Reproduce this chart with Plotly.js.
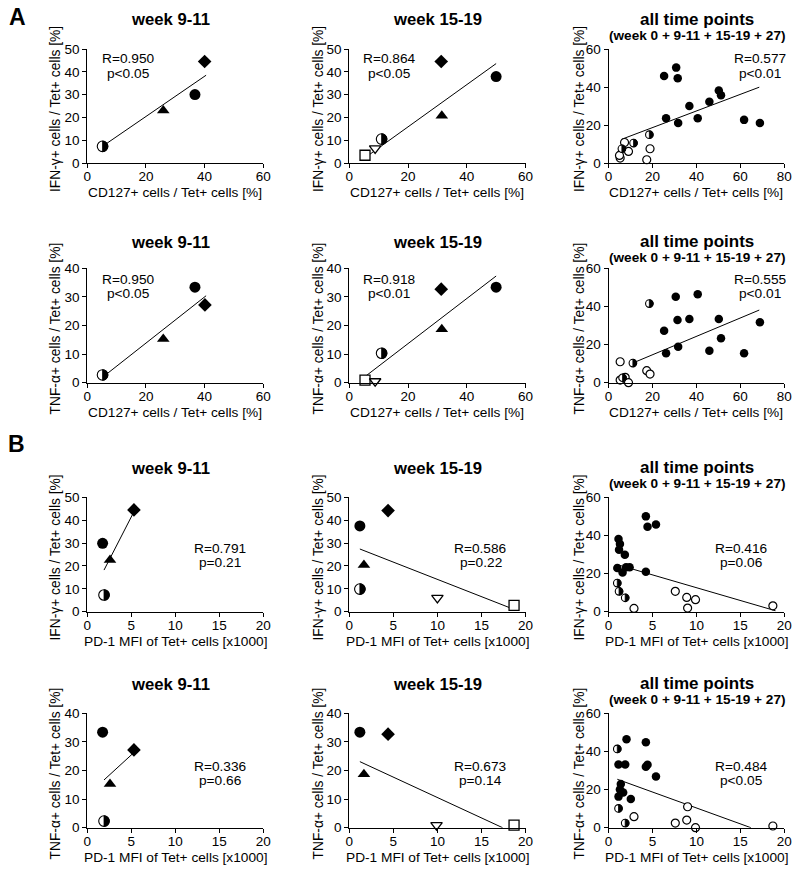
<!DOCTYPE html>
<html><head><meta charset="utf-8">
<script src="https://cdn.plot.ly/plotly-3.0.1.min.js"></script>
<style>html,body{margin:0;padding:0;background:#fff}#chart{width:800px;height:872px}</style>
</head><body><div id="chart"></div>
<script>
// ===== DATA =====
// Panel A: CD127+ / Tet+ [%] vs cytokine
const A1_x = [5.2, 25.9, 36.7, 40.0];
const A1_y = [7.3, 23.0, 30.0, 44.5];
const A1_sym = ['half', 'triangle', 'circle', 'diamond'];
const A1_fitx = [5.5, 40.5];
const A1_fity = [7.6, 38.5];

const A2_x = [5.35, 8.8, 11.0, 31.3, 31.5, 50.0];
const A2_y = [3.4, 6.4, 10.5, 44.5, 20.7, 37.9];
const A2_sym = ['square', 'tridown', 'half', 'diamond', 'triangle', 'circle'];
const A2_fitx = [6.0, 50.0];
const A2_fity = [2.9, 43.6];

const A3_filled_x = [25.3, 30.8, 31.5, 26.2, 31.7, 36.8, 40.6, 45.9, 50.2, 51.2, 61.7, 68.9];
const A3_filled_y = [45.8, 50.2, 44.6, 23.6, 21.0, 30.0, 23.6, 32.2, 38.1, 35.7, 22.7, 21.0];
const A3_half_x = [18.6, 11.4, 6.1];
const A3_half_y = [14.9, 10.5, 7.5];
const A3_open_x = [7.3, 9.1, 18.9, 17.4, 5.3, 5.0];
const A3_open_y = [10.8, 6.1, 7.5, 1.7, 2.6, 4.0];
const A3_fitx = [6.0, 68.6];
const A3_fity = [12.5, 39.9];

const A4_x = [5.2, 25.9, 36.7, 40.1];
const A4_y = [2.7, 15.3, 33.4, 27.2];
const A4_sym = ['half', 'triangle', 'circle', 'diamond'];
const A4_fitx = [5.7, 40.5];
const A4_fity = [2.3, 30.4];

const A5_x = [5.35, 8.8, 11.0, 31.3, 31.5, 50.0];
const A5_y = [0.9, 0.5, 10.3, 32.7, 18.7, 33.4];
const A5_sym = ['square', 'tridown', 'half', 'diamond', 'triangle', 'circle'];
const A5_fitx = [5.7, 50.0];
const A5_fity = [2.4, 37.3];

const A6_filled_x = [30.6, 40.6, 25.3, 31.4, 36.8, 50.2, 26.2, 31.7, 45.9, 51.2, 61.7, 68.9];
const A6_filled_y = [45.1, 46.4, 27.3, 32.9, 33.4, 33.4, 15.4, 18.9, 16.8, 23.3, 15.4, 31.7];
const A6_half_x = [18.6, 11.1, 6.4];
const A6_half_y = [41.5, 10.3, 2.6];
const A6_open_x = [5.3, 17.4, 18.9, 5.3, 7.6, 9.1];
const A6_open_y = [11.0, 6.3, 4.5, 1.4, 2.8, 0.0];
const A6_fitx = [10.6, 68.6];
const A6_fity = [10.1, 38.1];

// Panel B: PD-1 MFI of Tet+ cells [x1000] vs cytokine
const B1_x = [1.74, 1.9, 2.58, 5.3];
const B1_y = [29.9, 7.3, 22.6, 44.5];
const B1_sym = ['circle', 'half', 'triangle', 'diamond'];
const B1_fitx = [1.9, 5.3];
const B1_fity = [18.2, 43.7];

const B2_x = [1.2, 4.4, 1.66, 1.2, 10.0, 18.7];
const B2_y = [37.5, 44.2, 20.4, 9.9, 6.0, 2.8];
const B2_sym = ['circle', 'diamond', 'triangle', 'half', 'tridown', 'square'];
const B2_fitx = [1.2, 18.7];
const B2_fity = [27.4, 1.0];

const B3_filled_x = [4.25, 4.44, 5.4, 1.14, 1.3, 1.2, 1.86, 1.0, 1.6, 2.0, 2.4, 4.25];
const B3_filled_y = [50.0, 44.6, 45.7, 38.1, 35.5, 32.5, 29.9, 22.9, 20.6, 23.3, 23.3, 21.0];
const B3_half_x = [1.0, 1.2, 1.9];
const B3_half_y = [15.0, 10.7, 7.3];
const B3_open_x = [2.9, 7.6, 8.9, 9.9, 9.0, 18.7];
const B3_open_y = [1.7, 10.7, 7.5, 6.3, 1.9, 3.1];
const B3_fitx = [1.0, 19.0];
const B3_fity = [24.7, 0.5];

const B4_x = [1.74, 5.3, 2.58, 1.9];
const B4_y = [33.4, 27.2, 15.3, 2.3];
const B4_sym = ['circle', 'diamond', 'triangle', 'half'];
const B4_fitx = [1.9, 5.2];
const B4_fity = [16.7, 26.0];

const B5_x = [1.2, 4.4, 1.66, 9.9, 18.7];
const B5_y = [33.4, 32.7, 18.7, 0.9, 0.9];
const B5_sym = ['circle', 'diamond', 'triangle', 'tridown', 'square'];
const B5_fitx = [1.2, 17.4];
const B5_fity = [23.1, 0.0];

const B6_filled_x = [2.05, 4.25, 4.25, 4.44, 5.4, 1.14, 1.9, 1.4, 1.67, 1.14, 2.54, 1.3];
const B6_filled_y = [46.4, 44.8, 32.0, 33.0, 26.8, 33.2, 33.2, 22.9, 18.5, 16.3, 15.0, 20.0];
const B6_half_x = [1.0, 1.14, 1.9];
const B6_half_y = [41.3, 10.1, 2.4];
const B6_open_x = [2.9, 7.6, 8.9, 9.0, 9.9, 18.7];
const B6_open_y = [5.8, 2.4, 4.0, 11.0, 0.0, 0.9];
const B6_fitx = [1.0, 16.2];
const B6_fity = [25.4, 0.0];

const stats = [
  ['R=0.950', 'p<0.05'], ['R=0.864', 'p<0.05'], ['R=0.577', 'p<0.01'],
  ['R=0.950', 'p<0.05'], ['R=0.918', 'p<0.01'], ['R=0.555', 'p<0.01'],
  ['R=0.791', 'p=0.21'], ['R=0.586', 'p=0.22'], ['R=0.416', 'p=0.06'],
  ['R=0.336', 'p=0.66'], ['R=0.673', 'p=0.14'], ['R=0.484', 'p<0.05']
];
const titles = ['week 9-11', 'week 15-19', 'all time points'];
const subtitle = '(week 0 + 9-11 + 15-19 + 27)';
const xTitleA = 'CD127+ cells / Tet+ cells [%]';
const xTitleB = 'PD-1 MFI of Tet+ cells [x1000]';
const yTitleIFN = 'IFN-γ+ cells / Tet+ cells [%]';
const yTitleTNF = 'TNF-α+ cells / Tet+ cells [%]';

// ===== BUILD =====
const FONT = 'Liberation Sans, Arial, sans-serif';
const W = 800, H = 872;
const colPx = [[87.3, 263.3], [349.3, 525.5], [608.5, 784.3]];
const rowPx = [[49, 163], [268.3, 382.7], [497.3, 611.7], [713.3, 827.7]];
const yTitleX = [55, 318, 579];

const traces = [];
const shapes = [];
function ax(i) { return { xaxis: i === 1 ? 'x' : 'x' + i, yaxis: i === 1 ? 'y' : 'y' + i }; }

function fit(i, fx, fy) {
  traces.push(Object.assign({ type: 'scatter', mode: 'lines', x: fx, y: fy,
    line: { color: 'black', width: 1 }, hoverinfo: 'skip', cliponaxis: false }, ax(i)));
}
function markers(i, xs, ys, symbol, color, size, lineW) {
  if (!xs.length) return;
  traces.push(Object.assign({ type: 'scatter', mode: 'markers', x: xs, y: ys, cliponaxis: false,
    marker: { symbol: symbol, color: color, size: size, line: { color: 'black', width: lineW } } }, ax(i)));
}
// half-filled circle (left white, right black), anchored at data point, sized in pixels
function halves(i, xs, ys, r) {
  const a = ax(i);
  const k = 0.5523 * r;
  const f = (v) => v.toFixed(2);
  const path = `M0,${f(r)} C${f(k)},${f(r)} ${f(r)},${f(k)} ${f(r)},0 C${f(r)},${f(-k)} ${f(k)},${f(-r)} 0,${f(-r)} Z`;
  xs.forEach((x, n) => {
    const base = { xref: a.xaxis, yref: a.yaxis, xsizemode: 'pixel', ysizemode: 'pixel',
      xanchor: x, yanchor: ys[n], layer: 'above' };
    shapes.push(Object.assign({}, base, { type: 'circle', x0: -r, x1: r, y0: -r, y1: r,
      fillcolor: 'white', line: { color: 'black', width: 1.1 } }));
    shapes.push(Object.assign({}, base, { type: 'path', path: path,
      fillcolor: 'black', line: { color: 'black', width: 0.8 } }));
  });
}
function weekPanel(i, xs, ys, sym, fx, fy) {
  fit(i, fx, fy);
  const pick = (s) => { const px = [], py = []; sym.forEach((v, k) => { if (v === s) { px.push(xs[k]); py.push(ys[k]); } }); return [px, py]; };
  let p;
  p = pick('circle'); markers(i, p[0], p[1], 'circle', 'black', 11, 0);
  p = pick('triangle'); markers(i, p[0], p[1], 'triangle-up', 'black', 11, 0);
  p = pick('diamond'); markers(i, p[0], p[1], 'diamond', 'black', 10.5, 0);
  p = pick('square'); markers(i, p[0], p[1], 'square', 'white', 10, 1.3);
  p = pick('tridown'); markers(i, p[0], p[1], 'triangle-down', 'white', 10, 1.3);
  p = pick('half'); halves(i, p[0], p[1], 5.3);
}
function allPanel(i, fxs, fys, hxs, hys, oxs, oys, fx, fy) {
  fit(i, fx, fy);
  markers(i, oxs, oys, 'circle', 'white', 8, 1.2);
  markers(i, fxs, fys, 'circle', 'black', 8.5, 0);
  halves(i, hxs, hys, 3.8);
}

weekPanel(1, A1_x, A1_y, A1_sym, A1_fitx, A1_fity);
weekPanel(2, A2_x, A2_y, A2_sym, A2_fitx, A2_fity);
allPanel(3, A3_filled_x, A3_filled_y, A3_half_x, A3_half_y, A3_open_x, A3_open_y, A3_fitx, A3_fity);
weekPanel(4, A4_x, A4_y, A4_sym, A4_fitx, A4_fity);
weekPanel(5, A5_x, A5_y, A5_sym, A5_fitx, A5_fity);
allPanel(6, A6_filled_x, A6_filled_y, A6_half_x, A6_half_y, A6_open_x, A6_open_y, A6_fitx, A6_fity);
weekPanel(7, B1_x, B1_y, B1_sym, B1_fitx, B1_fity);
weekPanel(8, B2_x, B2_y, B2_sym, B2_fitx, B2_fity);
allPanel(9, B3_filled_x, B3_filled_y, B3_half_x, B3_half_y, B3_open_x, B3_open_y, B3_fitx, B3_fity);
weekPanel(10, B4_x, B4_y, B4_sym, B4_fitx, B4_fity);
weekPanel(11, B5_x, B5_y, B5_sym, B5_fitx, B5_fity);
allPanel(12, B6_filled_x, B6_filled_y, B6_half_x, B6_half_y, B6_open_x, B6_open_y, B6_fitx, B6_fity);

const layout = {
  width: W, height: H, margin: { l: 0, r: 0, t: 0, b: 0 },
  paper_bgcolor: 'white', plot_bgcolor: 'white', showlegend: false,
  font: { family: FONT, size: 13.5, color: 'black' },
  annotations: [], shapes: shapes, hovermode: false
};
function note(xpx, ypx, text, size, extra) {
  layout.annotations.push(Object.assign({ xref: 'paper', yref: 'paper', x: xpx / W, y: 1 - ypx / H,
    text: text, showarrow: false, xanchor: 'center', yanchor: 'middle', borderpad: 0,
    font: { family: FONT, size: size, color: 'black' } }, extra || {}));
}

for (let r = 0; r < 4; r++) {
  for (let c = 0; c < 3; c++) {
    const i = r * 3 + c + 1;
    const isA = r < 2;
    const xmax = isA ? (c === 2 ? 80 : 60) : 20;
    const xdt = isA ? 20 : 5;
    let ymax, ydt;
    if (c === 2) { ymax = 60; ydt = 20; }
    else if (r % 2 === 0) { ymax = 50; ydt = 10; }
    else { ymax = 40; ydt = 10; }
    const common = { showgrid: false, zeroline: false, showline: true, linecolor: 'black', linewidth: 1,
      ticks: 'outside', ticklen: 4, tickwidth: 1, tickcolor: 'black', tickfont: { family: FONT, size: 13.5, color: 'black' } };
    layout[i === 1 ? 'xaxis' : 'xaxis' + i] = Object.assign({}, common, {
      domain: [colPx[c][0] / W, colPx[c][1] / W], anchor: i === 1 ? 'y' : 'y' + i,
      range: [0, xmax], tick0: 0, dtick: xdt, ticklabelstandoff: -3
    });
    layout[i === 1 ? 'yaxis' : 'yaxis' + i] = Object.assign({}, common, {
      domain: [1 - rowPx[r][1] / H, 1 - rowPx[r][0] / H], anchor: i === 1 ? 'x' : 'x' + i,
      range: [0, ymax], tick0: 0, dtick: ydt
    });
    // axis titles
    note((colPx[c][0] + colPx[c][1]) / 2, rowPx[r][1] + 30, isA ? xTitleA : xTitleB, 13.7);
    note(yTitleX[c], (rowPx[r][0] + rowPx[r][1]) / 2 + 3, (r % 2 === 0) ? yTitleIFN : yTitleTNF, 13.8, { textangle: -90 });
    // panel titles
    const titleY = [20, 242, 468, 684][r];
    if (c < 2) {
      note(c === 0 ? 170 : 437, titleY, '<b>' + titles[c] + '</b>', 16.7);
    } else {
      note(697, titleY - 0.5, '<b>' + titles[2] + '</b>', 17);
      note(697, titleY + 15, '<b>' + subtitle + '</b>', 13.6);
    }
    // stats
    let sx, sy;
    if (isA) { sx = [128, 389, 760][c]; sy = [59, 279][r]; }
    else { sx = [220, 481, 741][c]; sy = [548, 766][r - 2]; }
    note(sx, sy, stats[i - 1][0], 13.7);
    note(sx, sy + 14.5, stats[i - 1][1], 13.7);
  }
}
note(17, 17, '<b>A</b>', 23);
note(16, 444, '<b>B</b>', 23);

Plotly.newPlot('chart', traces, layout, { staticPlot: true });
</script></body></html>
